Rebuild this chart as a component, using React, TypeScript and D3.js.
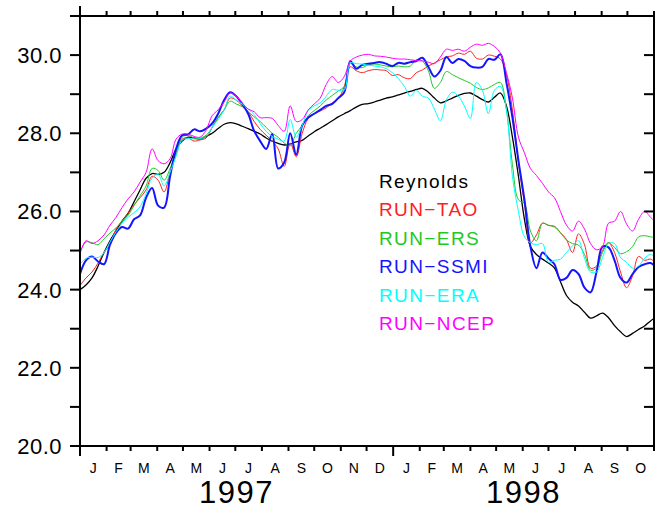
import { useEffect, useRef } from "react";
import * as d3 from "d3";

// weekly samples starting 1 Jan 1997
const startDate = new Date(Date.UTC(1997, 0, 1));
const endDate = new Date(Date.UTC(1998, 10, 1));
const stepDays = 7;

const reynolds = [
  24.0, 24.12, 24.3, 24.6, 24.95, 25.25, 25.5, 25.75, 25.95, 26.25,
  26.55, 26.85, 26.97, 26.95, 27.0, 27.25, 27.6, 27.8, 27.9, 27.88,
  27.85, 27.92, 28.0, 28.12, 28.23, 28.27, 28.24, 28.18, 28.12, 28.05,
  27.98, 27.88, 27.8, 27.74, 27.7, 27.73, 27.78, 27.82, 27.93, 28.04,
  28.13, 28.22, 28.32, 28.42, 28.5, 28.58, 28.67, 28.74, 28.76, 28.8,
  28.85, 28.9, 28.93, 28.98, 29.03, 29.07, 29.12, 29.15, 29.05, 28.9,
  28.78, 28.83, 28.9, 28.97, 29.02, 29.03, 28.95, 28.86, 28.8, 28.92,
  29.03, 28.7, 27.9, 26.9, 25.8, 25.1, 24.9, 24.78, 24.68, 24.55,
  24.2, 23.85, 23.68, 23.58, 23.42, 23.27, 23.33, 23.4, 23.28, 23.08,
  22.92, 22.8, 22.88, 22.98, 23.07, 23.2, 23.3,
];

const runTao = [
  24.1, 24.3, 24.45, 24.68, 24.95, 25.15, 25.55, 25.75, 25.95, 26.17,
  26.35, 26.55, 26.9, 26.8, 26.5, 27.0, 27.45, 27.85, 27.88, 27.8,
  27.83, 27.88, 28.15, 28.4, 28.6, 28.9, 28.85, 28.7, 28.55, 28.3,
  28.1, 27.95, 27.8, 27.6, 27.15, 27.75, 27.4, 28.0, 28.38, 28.5,
  28.57, 28.65, 28.78, 28.88, 29.2, 29.7, 29.6, 29.55, 29.6, 29.63,
  29.62, 29.6, 29.48, 29.5, 29.42, 29.4, 29.55, 29.62, 29.72, 29.8,
  29.88, 29.95, 29.98, 30.05, 30.02, 30.1, 29.92, 29.9, 30.0, 29.97,
  29.9, 29.5, 28.6, 27.25, 26.2, 25.2, 25.4, 25.7, 25.64, 25.62,
  25.46, 25.28, 24.95, 25.43, 25.15, 24.55, 24.6, 25.0, 25.2, 24.95,
  24.45, 24.05, 24.35, 24.85, 24.75, 24.78, 24.65,
];

const runErs = [
  24.95, 25.22, 25.2, 25.15, 25.3, 25.45, 25.58, 25.75, 25.9, 26.15,
  26.4, 26.65, 27.1, 27.05, 26.8, 27.1, 27.5, 27.9, 27.95, 27.88,
  27.88, 27.95, 28.15, 28.4, 28.6, 28.82, 28.75, 28.68, 28.55, 28.42,
  28.3, 28.15, 28.0, 27.9, 27.75, 27.68, 28.0, 28.2, 28.45, 28.58,
  28.7, 28.85, 28.97, 29.08, 29.2, 29.78, 29.7, 29.68, 29.75, 29.77,
  29.75, 29.72, 29.7, 29.72, 29.7, 29.72, 29.88, 29.85, 29.6, 29.15,
  29.3, 29.58, 29.5, 29.42, 29.35, 29.28, 29.17, 29.12, 29.16, 29.25,
  29.3, 28.6, 27.2, 26.3, 26.2, 25.5, 25.25, 25.7, 25.65, 25.6,
  25.45, 25.27, 25.18, 25.14, 24.9, 24.5, 24.55, 24.95, 25.2, 25.08,
  24.92, 24.97, 25.1, 25.35, 25.38, 25.35, 25.33,
];

const runSsmi = [
  24.4, 24.75, 24.85, 24.72, 24.65, 25.15, 25.45, 25.6, 25.56, 25.8,
  25.9, 26.35, 26.6, 26.15, 26.1, 26.9, 27.6, 27.95, 27.97, 28.1,
  28.05, 28.12, 28.25, 28.5, 28.85, 29.05, 28.95, 28.75, 28.5, 28.06,
  27.8, 27.6, 27.98, 27.1, 27.25, 28.0, 27.45, 28.2, 28.4, 28.5,
  28.6, 28.7, 28.75, 28.9, 29.05, 29.85, 29.65, 29.75, 29.78, 29.8,
  29.82, 29.78, 29.72, 29.8, 29.78, 29.82, 29.85, 29.93, 29.7, 29.45,
  29.6, 29.95, 29.8, 29.9, 29.85, 29.72, 29.68, 29.7, 29.9, 29.88,
  30.02, 29.3, 28.4, 27.3, 26.3, 25.1, 24.55, 24.95, 24.8, 24.65,
  24.25, 24.3, 24.5, 24.4, 24.05, 23.93, 24.45, 25.1, 25.08, 24.75,
  24.3, 24.18, 24.4, 24.58, 24.65, 24.68, 24.55,
];

const runEra = [
  24.65, 24.8, 24.83, 24.82, 24.95, 25.22, 25.48, 25.7, 25.85, 25.97,
  26.12, 26.45, 26.85, 26.95, 26.65, 27.0, 27.42, 27.82, 27.87, 27.85,
  27.86, 27.92, 28.15, 28.35, 28.6, 28.95, 28.85, 28.75, 28.62, 28.48,
  28.25, 28.05, 27.92, 27.85, 27.8, 28.35, 27.9, 28.2, 28.58, 28.7,
  28.78, 28.95, 29.12, 29.1, 29.1, 29.8, 29.78, 29.77, 29.74, 29.72,
  29.7, 29.65, 29.55, 29.4, 29.2, 28.95, 29.1, 28.95, 28.9, 28.62,
  28.32, 28.85, 29.05, 28.95, 28.7, 28.38, 29.3, 29.1, 28.5, 29.1,
  29.2, 28.6, 26.9, 26.0, 25.35, 25.2, 25.15, 25.18, 24.7, 24.75,
  24.78, 24.95, 25.12, 25.25, 24.8, 24.45, 24.45, 24.82, 25.18, 25.18,
  24.82, 24.7, 24.55, 24.6, 24.8, 24.9, 24.8,
];

const runNcep = [
  24.92, 25.25, 25.18, 25.25, 25.4, 25.65, 25.85, 26.1, 26.32, 26.5,
  26.75, 27.0, 27.6, 27.3, 27.22, 27.35, 27.85, 27.98, 27.98, 27.92,
  27.9, 28.08, 28.45, 28.6, 28.8, 29.03, 28.95, 28.78, 28.62, 28.55,
  28.4, 28.4, 28.38, 28.2, 28.05, 28.7, 28.3, 28.35, 28.6, 28.75,
  28.9, 29.25, 29.45, 29.3, 29.45, 29.85, 29.95, 30.0, 30.02, 29.98,
  29.97, 29.95, 29.92, 29.9, 29.9, 29.88, 29.86, 29.85, 29.82, 29.78,
  29.95, 30.15, 30.12, 30.15, 30.1, 30.2, 30.28, 30.25, 30.3, 30.22,
  30.05, 29.55, 28.9, 27.9, 27.5, 27.1, 26.92, 26.72, 26.5, 26.35,
  26.0, 25.65, 25.5, 25.75, 25.55, 25.18, 25.02, 25.1, 25.7, 25.75,
  26.0, 25.68, 25.5, 25.8, 26.0, 25.85, 25.7,
];

const seriesNames = ["Reynolds", "RUN\u2212TAO", "RUN\u2212ERS", "RUN\u2212SSMI", "RUN\u2212ERA", "RUN\u2212NCEP"];
const seriesValues = [reynolds, runTao, runErs, runSsmi, runEra, runNcep];
const seriesColors = ["#000000", "#ff2020", "#22c822", "#1414ff", "#00ffff", "#ff00ff"];
const seriesWidths = [1.3, 1, 1, 2, 1, 1];

const monthLetters = ["J", "F", "M", "A", "M", "J", "J", "A", "S", "O", "N", "D"];
const yearLabels = ["1997", "1998"];
const yTickValues = d3.range(20, 32, 1);
const yLabelValues = [20, 22, 24, 26, 28, 30];

export default function App() {
  const svgRef = useRef<SVGSVGElement>(null);

  useEffect(() => {
    if (!svgRef.current) return;
    const width = 670;
    const height = 510;
    const left = 80;
    const right = 654;
    const top = 16;
    const bottom = 446;
    const font = "'Liberation Sans', Arial, sans-serif";

    const svg = d3.select(svgRef.current);
    svg.selectAll("*").remove();

    svg.append("rect").attr("width", width).attr("height", height).attr("fill", "white");

    const x = d3.scaleUtc().domain([startDate, endDate]).range([left, right]);
    const y = d3.scaleLinear().domain([20, 31]).range([bottom, top]);

    svg
      .append("defs")
      .append("clipPath")
      .attr("id", "plot-clip")
      .append("rect")
      .attr("x", left)
      .attr("y", top)
      .attr("width", right - left)
      .attr("height", bottom - top);

    const line = d3
      .line<number>()
      .x((_, i) => x(d3.utcDay.offset(startDate, i * stepDays)))
      .y((d) => y(d))
      .curve(d3.curveCatmullRom.alpha(0.5));

    const lines = svg.append("g").attr("clip-path", "url(#plot-clip)");
    seriesValues.forEach((vals, k) => {
      lines
        .append("path")
        .attr("d", line(vals))
        .attr("fill", "none")
        .attr("stroke", seriesColors[k])
        .attr("stroke-width", seriesWidths[k])
        .attr("stroke-linejoin", "round");
    });

    // frame + ticks
    const axis = svg.append("g").attr("stroke", "black").attr("stroke-width", 2).attr("stroke-linecap", "square");
    axis.append("rect").attr("x", left).attr("y", top).attr("width", right - left).attr("height", bottom - top).attr("fill", "none");

    const monthTicks = d3.utcMonth.range(startDate, d3.utcDay.offset(endDate, 1));
    monthTicks.forEach((m) => {
      const len = m.getUTCMonth() === 0 ? 9 : 4;
      axis.append("line").attr("x1", x(m)).attr("x2", x(m)).attr("y1", top).attr("y2", top - len);
      axis.append("line").attr("x1", x(m)).attr("x2", x(m)).attr("y1", bottom).attr("y2", bottom + len);
    });

    yTickValues.forEach((v) => {
      axis.append("line").attr("x1", left - 9).attr("x2", left).attr("y1", y(v)).attr("y2", y(v));
      axis.append("line").attr("x1", right - 9).attr("x2", right).attr("y1", y(v)).attr("y2", y(v));
    });

    // y labels
    svg
      .append("g")
      .selectAll("text")
      .data(yLabelValues)
      .enter()
      .append("text")
      .attr("x", left - 18)
      .attr("y", (d) => y(d))
      .attr("dy", "0.36em")
      .attr("text-anchor", "end")
      .attr("font-family", font)
      .attr("font-size", 22)
      .attr("letter-spacing", 0.5)
      .text((d) => d3.format(".1f")(d));

    // month letters
    const months = d3.utcMonth.range(startDate, endDate);
    svg
      .append("g")
      .selectAll("text")
      .data(months)
      .enter()
      .append("text")
      .attr("x", (d) => (x(d) + x(d3.utcMonth.offset(d, 1))) / 2)
      .attr("y", 473)
      .attr("text-anchor", "middle")
      .attr("font-family", font)
      .attr("font-size", 14)
      .text((d) => monthLetters[d.getUTCMonth()]);

    // years
    const yearSpans = [
      [startDate, new Date(Date.UTC(1998, 0, 1))],
      [new Date(Date.UTC(1998, 0, 1)), endDate],
    ];
    yearLabels.forEach((lab, k) => {
      svg
        .append("text")
        .attr("x", (x(yearSpans[k][0]) + x(yearSpans[k][1])) / 2)
        .attr("y", 503)
        .attr("text-anchor", "middle")
        .attr("font-family", font)
        .attr("font-size", 31)
        .attr("letter-spacing", 1.5)
        .text(lab);
    });

    // legend
    const legend = svg.append("g");
    seriesNames.forEach((name, k) => {
      legend
        .append("text")
        .attr("x", 379)
        .attr("y", 188 + k * 28.4)
        .attr("font-family", font)
        .attr("font-size", 19)
        .attr("letter-spacing", 1.4)
        .attr("fill", seriesColors[k])
        .text(name);
    });
  }, []);

  return <svg ref={svgRef} width={670} height={510} style={{ position: "absolute", left: 0, top: 0 }} />;
}
